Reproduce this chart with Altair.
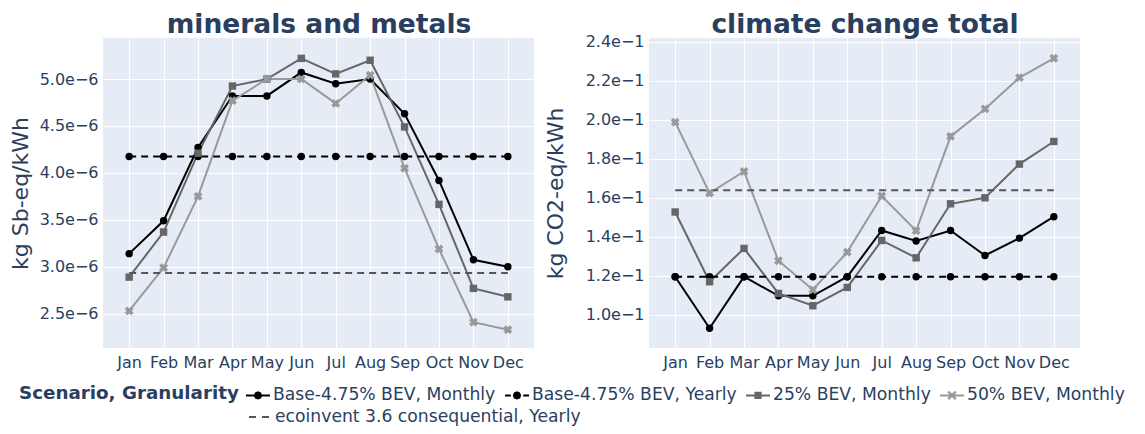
import altair as alt
import pandas as pd

TXT = "#2a3f5f"

months = ["Jan", "Feb", "Mar", "Apr", "May", "Jun", "Jul", "Aug", "Sep", "Oct", "Nov", "Dec"]

series_names = [
    "Base-4.75% BEV, Monthly",
    "Base-4.75% BEV, Yearly",
    "25% BEV, Monthly",
    "50% BEV, Monthly",
    "ecoinvent 3.6 consequential, Yearly",
]
series_colors = ["#000000", "#000000", "#666666", "#999999", "#555555"]
solid_series = [series_names[0], series_names[2], series_names[3]]
dashed_series = [series_names[1], series_names[4]]

# minerals and metals (kg Sb-eq/kWh)
mm_base_monthly = [3.14e-6, 3.49e-6, 4.27e-6, 4.82e-6, 4.82e-6, 5.07e-6, 4.95e-6, 5.00e-6, 4.63e-6, 3.92e-6, 3.075e-6, 3.00e-6]
mm_base_yearly = [4.175e-6, 4.175e-6, 4.175e-6, 4.175e-6, 4.175e-6, 4.175e-6, 4.175e-6, 4.175e-6, 4.175e-6, 4.175e-6, 4.175e-6, 4.175e-6]
mm_25 = [2.89e-6, 3.37e-6, 4.21e-6, 4.925e-6, 5.00e-6, 5.22e-6, 5.055e-6, 5.20e-6, 4.49e-6, 3.665e-6, 2.77e-6, 2.68e-6]
mm_50 = [2.53e-6, 2.99e-6, 3.75e-6, 4.77e-6, 5.00e-6, 5.00e-6, 4.74e-6, 5.04e-6, 4.05e-6, 3.19e-6, 2.41e-6, 2.33e-6]
mm_eco = [2.935e-6, 2.935e-6, 2.935e-6, 2.935e-6, 2.935e-6, 2.935e-6, 2.935e-6, 2.935e-6, 2.935e-6, 2.935e-6, 2.935e-6, 2.935e-6]
mm_ticks = [2.5e-6, 3.0e-6, 3.5e-6, 4.0e-6, 4.5e-6, 5.0e-6]
mm_domain = [2.135e-6, 5.437e-6]

# climate change total (kg CO2-eq/kWh)
cc_base_monthly = [0.1195, 0.0930, 0.1195, 0.1097, 0.1097, 0.1195, 0.1432, 0.1378, 0.1432, 0.1304, 0.1393, 0.1503]
cc_base_yearly = [0.1195, 0.1195, 0.1195, 0.1195, 0.1195, 0.1195, 0.1195, 0.1195, 0.1195, 0.1195, 0.1195, 0.1195]
cc_25 = [0.1527, 0.1169, 0.1340, 0.1109, 0.1046, 0.1140, 0.1381, 0.1292, 0.1569, 0.1600, 0.1773, 0.1889]
cc_50 = [0.1988, 0.1624, 0.1735, 0.1277, 0.1128, 0.1321, 0.1609, 0.1431, 0.1915, 0.2056, 0.2217, 0.2316]
cc_eco = [0.1638, 0.1638, 0.1638, 0.1638, 0.1638, 0.1638, 0.1638, 0.1638, 0.1638, 0.1638, 0.1638, 0.1638]
cc_ticks = [0.10, 0.12, 0.14, 0.16, 0.18, 0.20, 0.22, 0.24]
cc_domain = [0.0829, 0.2420]

# legend glyphs (symbol paths: line + marker), polygons only
line_full = "M-1.2,-0.1L1.2,-0.1L1.2,0.1L-1.2,0.1Z"
line_dash = "M-1.2,-0.1L-0.62,-0.1L-0.62,0.1L-1.2,0.1Z M0.62,-0.1L1.2,-0.1L1.2,0.1L0.62,0.1Z"
circle_mk = "M0.42,0L0.3,0.3L0,0.42L-0.3,0.3L-0.42,0L-0.3,-0.3L0,-0.42L0.3,-0.3Z"
square_mk = "M-0.36,-0.36L0.36,-0.36L0.36,0.36L-0.36,0.36Z"
x_mk = ("M-0.295,-0.465L0.465,0.295L0.295,0.465L-0.465,-0.295Z "
        "M0.465,-0.295L-0.295,0.465L-0.465,0.295L0.295,-0.465Z")
glyphs = [
    line_full + " " + circle_mk,
    line_dash + " " + circle_mk,
    line_full + " " + square_mk,
    line_full + " " + x_mk,
]


def long_df(values_list):
    rows = []
    for name, vals in zip(series_names, values_list):
        for m, v in zip(months, vals):
            rows.append({"month": m, "series": name, "value": v})
    return pd.DataFrame(rows)


mm_df = long_df([mm_base_monthly, mm_base_yearly, mm_25, mm_50, mm_eco])
cc_df = long_df([cc_base_monthly, cc_base_yearly, cc_25, cc_50, cc_eco])

# colour scale uses a differently ordered domain so its hidden legend never merges
color_scale = alt.Scale(domain=series_names[::-1], range=series_colors[::-1])
x_scale = alt.Scale(type="point", padding=0.76)

common_legend = dict(
    orient="none",
    direction="horizontal",
    labelFontSize=17.2,
    labelColor=TXT,
    labelLimit=500,
    labelOffset=5,
    columnPadding=9,
    symbolSize=400,
    symbolOpacity=1,
    padding=0,
)

legend_main = alt.Legend(
    title="Scenario, Granularity",
    legendX=-84,
    legendY=347,
    titleOrient="left",
    titleAnchor="start",
    titleBaseline="top",
    titleFontSize=18.3,
    titleFontWeight="bold",
    titleColor=TXT,
    titlePadding=9,
    titleLimit=400,
    symbolStrokeWidth=0,
    **common_legend,
)

legend_eco = alt.Legend(
    title=None,
    legendX=145,
    legendY=368,
    symbolStrokeWidth=2,
    **common_legend,
)


def panel(df, title, ytitle, domain, ticks, title_pad, with_legend):
    x_axis = alt.X(
        "month:N", sort=months, title=None, scale=x_scale,
        axis=alt.Axis(labelAngle=0, labelFontSize=16, labelColor=TXT, labelPadding=6,
                      domain=False, ticks=False, tickSize=0, grid=True,
                      gridColor="white", gridWidth=1),
    )
    x_plain = alt.X("month:N", sort=months, scale=x_scale, axis=None)
    x_top = alt.X(
        "month:N", sort=months, title=title, scale=x_scale,
        axis=alt.Axis(orient="top", labels=False, ticks=False, tickSize=0, domain=False,
                      grid=False, titleFontSize=26.5, titleFontWeight="bold", titleColor=TXT,
                      titlePadding=6, titleBaseline="alphabetic"),
    )
    y = alt.Y(
        "value:Q", title=ytitle,
        scale=alt.Scale(domain=domain, nice=False, zero=False),
        axis=alt.Axis(values=ticks,
                      labelExpr="replace(format(datum.value, '.1e'), '-', '\u2212')",
                      labelFontSize=16, labelColor=TXT, labelPadding=5,
                      titleFontSize=22, titleColor=TXT, titleFontWeight="normal",
                      titlePadding=title_pad, domain=False, ticks=False, tickSize=0,
                      grid=True, gridColor="white", gridWidth=1),
    )
    base = alt.Chart(df).encode(y=y)
    col = alt.Color("series:N", scale=color_scale, legend=None)
    solid = base.mark_line(strokeWidth=2).encode(x=x_axis, color=col).transform_filter(
        alt.FieldOneOfPredicate(field="series", oneOf=solid_series)
    )
    dashed = base.mark_line(strokeWidth=2, strokeDash=[7, 5]).encode(x=x_plain, color=col).transform_filter(
        alt.FieldOneOfPredicate(field="series", oneOf=dashed_series)
    )
    circles = base.mark_circle(size=55, opacity=1).encode(x=x_plain, color=col).transform_filter(
        alt.FieldOneOfPredicate(field="series", oneOf=[series_names[0], series_names[1]])
    )
    squares = base.mark_square(size=55, opacity=1).encode(x=x_plain, color=col).transform_filter(
        alt.FieldEqualPredicate(field="series", equal=series_names[2])
    )
    crosses = base.mark_point(shape="cross", angle=45, filled=True, size=80, opacity=1).encode(
        x=x_plain, color=col).transform_filter(
        alt.FieldEqualPredicate(field="series", equal=series_names[3])
    )
    # invisible layer carrying the panel title (as a top axis title)
    ttl = base.mark_point(opacity=0).encode(x=x_top).transform_filter(
        alt.FieldEqualPredicate(field="series", equal=series_names[0])
    )
    layers = [solid, dashed, circles, squares, crosses, ttl]
    if with_legend:
        leg = base.mark_point(filled=True, opacity=0, size=400).encode(
            x=x_plain,
            shape=alt.Shape("series:N", scale=alt.Scale(domain=series_names[:4], range=glyphs), legend=legend_main),
            fill=alt.Fill("series:N", scale=alt.Scale(domain=series_names[:4], range=series_colors[:4]), legend=legend_main),
        ).transform_filter(
            alt.FieldOneOfPredicate(field="series", oneOf=series_names[:4])
        ).transform_filter(alt.FieldEqualPredicate(field="month", equal="Jan"))
        leg_eco = base.mark_line(opacity=0, color="#555555", strokeWidth=2).encode(
            x=x_plain,
            strokeDash=alt.StrokeDash("series:N", scale=alt.Scale(domain=[series_names[4]], range=[[7, 6]]),
                                      legend=legend_eco),
        ).transform_filter(alt.FieldEqualPredicate(field="series", equal=series_names[4]))
        layers += [leg, leg_eco]
    return alt.layer(*layers).resolve_axis(x="independent").properties(width=431, height=310)


left = panel(mm_df, "minerals and metals", "kg Sb-eq/kWh", mm_domain, mm_ticks, 7, True)
right = panel(cc_df, "climate change total", "kg CO2-eq/kWh", cc_domain, cc_ticks, 18, False)

chart = alt.hconcat(left, right, spacing=10).properties(
    padding={"left": 1, "top": 3, "right": 0, "bottom": 0}
).configure(font="DejaVu Sans").configure_view(fill="#E5ECF6", strokeWidth=0)

chart.save("out.html", embed_options={"renderer": "svg", "actions": False})
